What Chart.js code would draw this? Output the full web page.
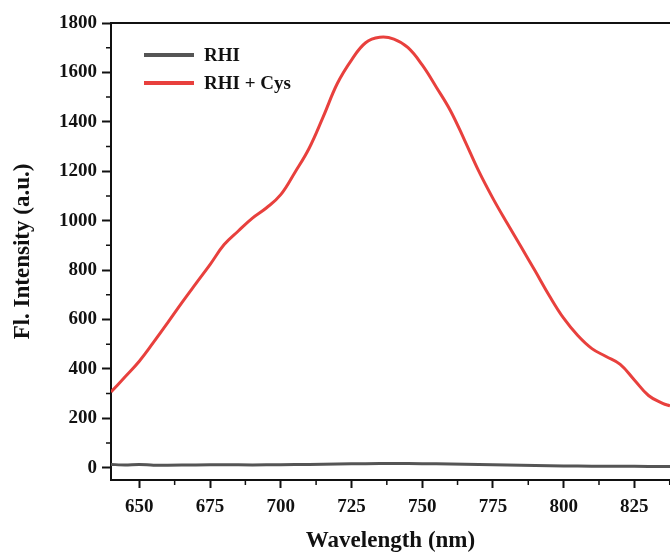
<!DOCTYPE html>
<html>
<head>
<meta charset="utf-8">
<script src="https://cdn.jsdelivr.net/npm/chart.js@4"></script>
<style>
    html, body { margin: 0; padding: 0; background: #fff; }
    #wrap { width: 670px; height: 554px; }
</style>
</head>
<body>
<div id="wrap"><canvas id="fluoChart" width="670" height="554"></canvas></div>
<script>
// emission spectra
const wavelengths = [640, 645, 650, 655, 660, 665, 670, 675, 680, 685, 690, 695, 700, 705, 710, 715, 720, 725, 730, 735, 740, 745, 750, 755, 760, 765, 770, 775, 780, 785, 790, 795, 800, 805, 810, 815, 820, 825, 830, 835, 837.6];
const rhiCys = [306, 368, 431, 507, 586, 667, 745, 822, 903, 958, 1010, 1052, 1105, 1195, 1292, 1420, 1555, 1650, 1720, 1742, 1735, 1700, 1630, 1540, 1445, 1325, 1200, 1090, 990, 893, 795, 695, 605, 535, 482, 450, 418, 355, 292, 260, 250];
const rhiWavelengths = [640, 645, 650, 655, 660, 670, 680, 690, 700, 710, 720, 730, 740, 750, 760, 770, 780, 790, 800, 810, 820, 830, 837.6];
const rhi = [13, 11, 13, 10, 10, 11, 12, 11, 12, 13, 15, 16, 17, 16, 15, 13, 11, 9, 7, 6, 6, 5, 5];

const xTicks = [650, 675, 700, 725, 750, 775, 800, 825];
const yTicks = [0, 200, 400, 600, 800, 1000, 1200, 1400, 1600, 1800];
const xMinor = [662.5, 687.5, 712.5, 737.5, 762.5, 787.5, 812.5, 837.5];
const yMinor = [100, 300, 500, 700, 900, 1100, 1300, 1500, 1700];

const serif = '"Liberation Serif", "Times New Roman", serif';

const toPoints = (xs, ys) => xs.map((x, i) => ({ x: x, y: ys[i] }));

const frameAndMinor = {
    id: 'frameAndMinor',
    afterDraw(chart) {
        const { ctx, chartArea, scales } = chart;
        ctx.save();
        ctx.strokeStyle = '#111';
        ctx.lineWidth = 2;
        // top border line
        ctx.beginPath();
        ctx.moveTo(chartArea.left, chartArea.top);
        ctx.lineTo(chartArea.right, chartArea.top);
        ctx.stroke();
        // minor ticks
        ctx.lineWidth = 1.5;
        ctx.beginPath();
        xMinor.forEach(v => {
            const px = scales.x.getPixelForValue(v);
            ctx.moveTo(px, chartArea.bottom);
            ctx.lineTo(px, chartArea.bottom + 5);
        });
        yMinor.forEach(v => {
            const py = scales.y.getPixelForValue(v);
            ctx.moveTo(chartArea.left, py);
            ctx.lineTo(chartArea.left - 5, py);
        });
        ctx.stroke();
        ctx.restore();
    }
};

const insideLegend = {
    id: 'insideLegend',
    afterDatasetsDraw(chart) {
        const ctx = chart.ctx;
        ctx.save();
        ctx.font = 'bold 19px ' + serif;
        ctx.textBaseline = 'middle';
        ctx.fillStyle = '#111';
        chart.data.datasets.forEach((ds, i) => {
            const y = 55 + i * 28;
            ctx.strokeStyle = ds.borderColor;
            ctx.lineWidth = 4;
            ctx.beginPath();
            ctx.moveTo(144, y);
            ctx.lineTo(194, y);
            ctx.stroke();
            ctx.fillText(ds.label, 204, y + 1);
        });
        ctx.restore();
    }
};

new Chart(document.getElementById('fluoChart'), {
    type: 'line',
    data: {
        datasets: [
            { label: 'RHI', data: toPoints(rhiWavelengths, rhi), borderColor: '#555555', borderWidth: 3, pointRadius: 0, tension: 0.3 },
            { label: 'RHI + Cys', data: toPoints(wavelengths, rhiCys), borderColor: '#e8403d', borderWidth: 3, pointRadius: 0, tension: 0.4 }
        ]
    },
    options: {
        responsive: false,
        animation: false,
        layout: { padding: { top: 23, right: 0, bottom: 0, left: 0 } },
        plugins: { legend: { display: false }, tooltip: { enabled: false } },
        scales: {
            x: {
                type: 'linear',
                min: 640,
                max: 837.6,
                afterBuildTicks: (s) => { s.ticks = xTicks.map(v => ({ value: v })); },
                afterFit: (s) => { s.height = 74; },
                grid: { drawOnChartArea: false, drawTicks: true, tickLength: 8, tickWidth: 2, tickColor: '#111' },
                border: { display: true, width: 2, color: '#111' },
                ticks: { color: '#111', padding: 8, maxRotation: 0, callback: (v) => String(v), font: { family: serif, size: 19, weight: 'bold' } },
                title: { display: true, text: 'Wavelength (nm)', color: '#111', padding: { top: 0, bottom: 1 }, font: { family: serif, size: 23, weight: 'bold', lineHeight: 1 } }
            },
            y: {
                min: -50,
                max: 1800,
                afterBuildTicks: (s) => { s.ticks = yTicks.map(v => ({ value: v })); },
                afterFit: (s) => { s.width = 111; },
                grid: { drawOnChartArea: false, drawTicks: true, tickLength: 9, tickWidth: 2, tickColor: '#111' },
                border: { display: true, width: 2, color: '#111' },
                ticks: { color: '#111', padding: 5, callback: (v) => String(v), font: { family: serif, size: 19, weight: 'bold' } },
                title: { display: true, text: 'Fl. Intensity (a.u.)', color: '#111', padding: { top: 12, bottom: 0 }, font: { family: serif, size: 23, weight: 'bold', lineHeight: 1 } }
            }
        }
    },
    plugins: [frameAndMinor, insideLegend]
});
</script>
</body>
</html>
